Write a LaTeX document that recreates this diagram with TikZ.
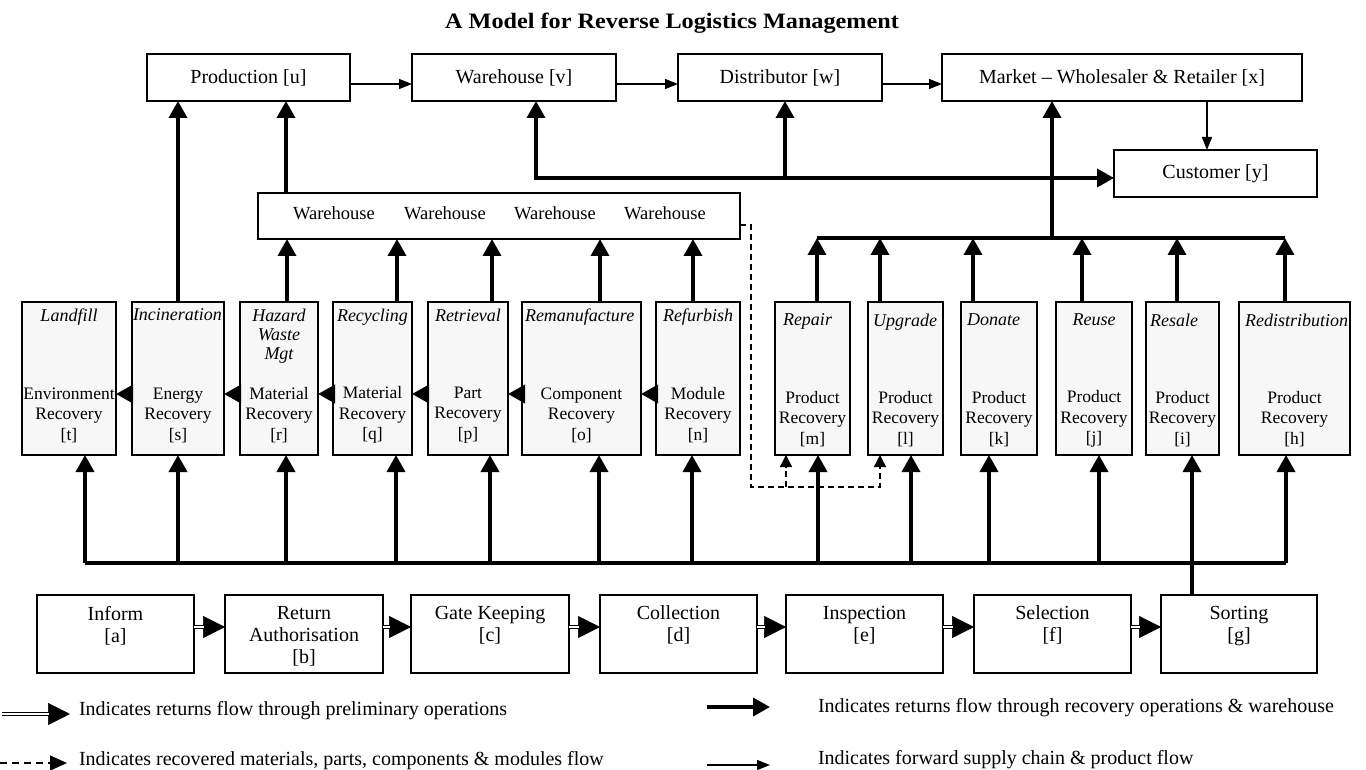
\documentclass[tikz,border=0pt]{standalone}
\usepackage{fontspec}
\setmainfont{Liberation Serif}
\newfontfamily\titlefont[FakeStretch=1.1]{Liberation Serif}
\usetikzlibrary{arrows.meta,calc}
\definecolor{boxgray}{HTML}{F7F7F7}
\begin{document}
\begin{tikzpicture}[x=1pt,y=-1pt,
  every node/.style={inner sep=0pt,outer sep=0pt},
  flowbox/.style={draw,line width=1.5pt,minimum height=47pt,minimum width=#1,font=\fontsize{20}{22}\selectfont},
  recbox/.style={draw,line width=1.5pt,fill=boxgray,minimum height=153pt,minimum width=#1},
  prebox/.style={draw,line width=1.5pt,minimum height=78pt,minimum width=#1},
  lab/.style={font=\fontsize{18}{19}\selectfont\itshape,align=center},
  rec/.style={font=\fontsize{17.5}{20.5}\selectfont,align=center},
  pre/.style={font=\fontsize{20}{22}\selectfont,align=center,anchor=north},
  whtext/.style={font=\fontsize{18.5}{20}\selectfont},
  legtext/.style={font=\fontsize{20}{22}\selectfont,anchor=west},
  thk/.style={line width=3.5pt,-{Triangle[length=17pt,width=18pt]}},
  thkboth/.style={line width=3.5pt,{Triangle[length=17pt,width=18pt]}-{Triangle[length=17pt,width=18pt]}},
  thkline/.style={line width=3.5pt},
  fwd/.style={line width=1.2pt,-{Triangle[length=13pt,width=10pt]}},
  dsh/.style={line width=1.3pt,dash pattern=on 6pt off 4pt,-{Triangle[length=12pt,width=12pt]}},
  dbl/.style={double=white,double distance=2.2pt,line width=1pt,shorten >=21pt},
  dbltip/.style={line width=0.5pt,-{Triangle[length=22pt,width=22pt]}},
]
\fill[white] (0,0) rectangle (1366,770);
\useasboundingbox (0,0) rectangle (1366,770);

% title
\node[font={\titlefont\fontsize{22}{24}\selectfont\bfseries}] (title) at (672,23) {A Model for Reverse Logistics Management};

% forward chain
\node[flowbox=203pt] (prod) at (248.5,77.5) {Production [u]};
\node[flowbox=204pt] (wh) at (514,77.5) {Warehouse [v]};
\node[flowbox=204pt] (dist) at (780,77.5) {Distributor [w]};
\node[flowbox=360pt] (mkt) at (1122,77.5) {Market -- Wholesaler \& Retailer [x]};
\node[flowbox=203pt] (cust) at (1215.5,173.5) {Customer [y]};

% warehouse strip
\node[draw,line width=1.5pt,minimum width=482pt,minimum height=46pt] (strip) at (499,216) {};
\node[whtext] (wa) at (334,213) {Warehouse};
\node[whtext] (wb) at (445,213) {Warehouse};
\node[whtext] (wc) at (555,213) {Warehouse};
\node[whtext] (wd) at (665,213) {Warehouse};

% recovery boxes
\node[recbox=94pt] (nT) at (69,378.5) {};
\node[recbox=92pt] (nS) at (178,378.5) {};
\node[recbox=78pt] (nR) at (279,378.5) {};
\node[recbox=79pt] (nQ) at (372.5,378.5) {};
\node[recbox=80pt] (nP) at (468,378.5) {};
\node[recbox=119pt] (nO) at (581.5,378.5) {};
\node[recbox=84pt] (nN) at (698,378.5) {};
\node[recbox=75pt] (nM) at (812.5,378.5) {};
\node[recbox=75pt] (nL) at (905.5,378.5) {};
\node[recbox=76pt] (nK) at (999,378.5) {};
\node[recbox=76pt] (nJ) at (1094,378.5) {};
\node[recbox=73pt] (nI) at (1182.5,378.5) {};
\node[recbox=111pt] (nH) at (1294.5,378.5) {};

% labels
\node[lab,anchor=north] (lT) at ([yshift=-7pt]nT.north) {Landfill};
\node[lab,anchor=north west] (lS) at ([xshift=1pt,yshift=-7pt]nS.north west) {Incineration};
\node[lab,anchor=north] (lR) at ([yshift=-7pt]nR.north) {Hazard\\Waste\\Mgt};
\node[lab,anchor=north west] (lQ) at ([xshift=4pt,yshift=-7pt]nQ.north west) {Recycling};
\node[lab,anchor=north west] (lP) at ([xshift=7pt,yshift=-7pt]nP.north west) {Retrieval};
\node[lab,anchor=north west] (lO) at ([xshift=3pt,yshift=-7pt]nO.north west) {Remanufacture};
\node[lab,anchor=north] (lN) at ([yshift=-7pt]nN.north) {Refurbish};
\node[lab,anchor=north west] (lM) at ([xshift=8pt,yshift=-12pt]nM.north west) {Repair};
\node[lab,anchor=north west] (lL) at ([xshift=5pt,yshift=-12pt]nL.north west) {Upgrade};
\node[lab,anchor=north west] (lK) at ([xshift=6pt,yshift=-12pt]nK.north west) {Donate};
\node[lab,anchor=north] (lJ) at ([yshift=-12pt]nJ.north) {Reuse};
\node[lab,anchor=north west] (lI) at ([xshift=4pt,yshift=-12pt]nI.north west) {Resale};
\node[lab,anchor=north west] (lH) at ([xshift=6pt,yshift=-12pt]nH.north west) {Redistribution};

% recovery texts
\node[rec] (rT) at (69,415) {Environment\\Recovery\\{[t]}};
\node[rec] (rS) at (178,415) {Energy\\Recovery\\{[s]}};
\node[rec] (rR) at (279,415) {Material\\Recovery\\{[r]}};
\node[rec] (rQ) at (372.5,415) {Material\\Recovery\\{[q]}};
\node[rec] (rP) at (468,415) {Part\\Recovery\\{[p]}};
\node[rec] (rO) at (581.5,415) {Component\\Recovery\\{[o]}};
\node[rec] (rN) at (698,415) {Module\\Recovery\\{[n]}};
\node[rec] (rM) at (812.5,419) {Product\\Recovery\\{[m]}};
\node[rec] (rL) at (905.5,419) {Product\\Recovery\\{[l]}};
\node[rec] (rK) at (999,419) {Product\\Recovery\\{[k]}};
\node[rec] (rJ) at (1094,419) {Product\\Recovery\\{[j]}};
\node[rec] (rI) at (1182.5,419) {Product\\Recovery\\{[i]}};
\node[rec] (rH) at (1294.5,419) {Product\\Recovery\\{[h]}};

% preliminary operations
\node[prebox=157pt] (nA) at (115.5,634) {};
\node[prebox=158pt] (nB) at (304,634) {};
\node[prebox=158pt] (nC) at (490,634) {};
\node[prebox=157pt] (nD) at (678.5,634) {};
\node[prebox=157pt] (nE) at (864.5,634) {};
\node[prebox=157pt] (nF) at (1052.5,634) {};
\node[prebox=156pt] (nG) at (1239,634) {};
\node[pre] (pA) at (115.5,606) {Inform\\{[a]}};
\node[pre] (pB) at (304,606) {Return\\Authorisation\\{[b]}};
\node[pre] (pC) at (490,606) {Gate Keeping\\{[c]}};
\node[pre] (pD) at (678.5,606) {Collection\\{[d]}};
\node[pre] (pE) at (864.5,606) {Inspection\\{[e]}};
\node[pre] (pF) at (1052.5,606) {Selection\\{[f]}};
\node[pre] (pG) at (1239,606) {Sorting\\{[g]}};

% preliminary flow arrows
\foreach \u/\v in {nA/nB,nB/nC,nC/nD,nD/nE,nE/nF,nF/nG}{
  \draw[dbltip] ([yshift=7pt]\u.east) -- ([yshift=7pt]\v.west);
  \draw[dbl] ([yshift=7pt]\u.east) -- ([yshift=7pt]\v.west);
}

% forward supply chain
\draw[fwd] ([yshift=-6.5pt]prod.east) -- ([yshift=-6.5pt]prod.east -| wh.west);
\draw[fwd] ([yshift=-6.5pt]wh.east) -- ([yshift=-6.5pt]wh.east -| dist.west);
\draw[fwd] ([yshift=-6.5pt]dist.east) -- ([yshift=-6.5pt]dist.east -| mkt.west);
\draw[fwd] ([xshift=85pt]mkt.south) -- ([xshift=85pt]mkt.south |- cust.north);

% recovery chain (left, between boxes)
\foreach \u/\v in {nS/nT,nR/nS,nQ/nR,nP/nQ,nO/nP,nN/nO}{
  \draw[thk] ([yshift=-15.5pt]\u.west) -- ([yshift=-15.5pt]\v.east);
}

% bottom bus
\coordinate (bT) at (85,563);
\coordinate (bH) at (1286,563);
\draw[thkline] (bT) -- (bH);
\foreach \n/\x in {T/85,S/178,R/286,Q/396,P/490,O/599,N/692,M/818,L/911,K/989,J/1099,H/1286}{
  \coordinate (b\n) at (\x,563);
  \draw[thk] (b\n) -- (b\n |- n\n.south);
}
\coordinate (bI) at (1192,563);
\draw[thk] (bI |- nG.north) -- (bI |- nI.south);

% up to warehouse strip and production
\foreach \n/\x in {R/287,Q/397,P/492,O/600,N/693}{
  \coordinate (t\n) at (\x,270);
  \draw[thk] (t\n |- n\n.north) -- (t\n |- strip.south);
}
\draw[thk] (nS.north) -- (nS.north |- prod.south);
\coordinate (sp) at (286,150);
\draw[thk] (sp |- strip.north) -- (sp |- prod.south);

% right top bus
\coordinate (tbL) at (817,238);
\coordinate (tbR) at (1285,238);
\draw[thkline] (tbL) -- (tbR);
\foreach \n/\x in {M/817,L/880,K/973,J/1082,I/1177,H/1285}{
  \coordinate (u\n) at (\x,238);
  \draw[thk] (u\n |- n\n.north) -- (u\n);
}
\coordinate (mk) at (1052,238);
\draw[thk] (mk) -- (mk |- mkt.south);

% to warehouse, distributor, customer
\coordinate (vc) at (536,178);
\coordinate (dc) at (785,178);
\draw[thkboth] (vc |- wh.south) -- (vc) -- (vc -| cust.west);
\draw[thk] (dc) -- (dc |- dist.south);

% dashed recovered materials flow
\coordinate (dA) at (751,225);
\coordinate (dB) at (751,487);
\coordinate (dC) at (880,487);
\coordinate (dD) at (786,487);
\draw[dsh] (dA -| strip.east) -- (dA) -- (dB) -- (dC) -- (dC |- nL.south);
\draw[dsh] (dD) -- (dD |- nM.south);

% legend
\coordinate (g1a) at (2,714);
\coordinate (g1b) at (70,714);
\draw[dbltip] (g1a) -- (g1b);
\draw[dbl] (g1a) -- (g1b);
\node[legtext] (gt1) at (79,711) {Indicates returns flow through preliminary operations};
\coordinate (g2a) at (0,763);
\coordinate (g2b) at (67,763);
\draw[line width=1.3pt,dash pattern=on 7pt off 5pt,-{Triangle[length=17pt,width=15pt]}] (g2a) -- (g2b);
\node[legtext] (gt2) at (79,761) {Indicates recovered materials, parts, components \& modules flow};
\coordinate (g3a) at (707,707);
\coordinate (g3b) at (770,707);
\draw[thk] (g3a) -- (g3b);
\node[legtext] (gt3) at (818,708) {Indicates returns flow through recovery operations \& warehouse};
\coordinate (g4a) at (707,765);
\coordinate (g4b) at (770,765);
\draw[fwd] (g4a) -- (g4b);
\node[legtext] (gt4) at (818,760) {Indicates forward supply chain \& product flow};
\end{tikzpicture}
\end{document}
